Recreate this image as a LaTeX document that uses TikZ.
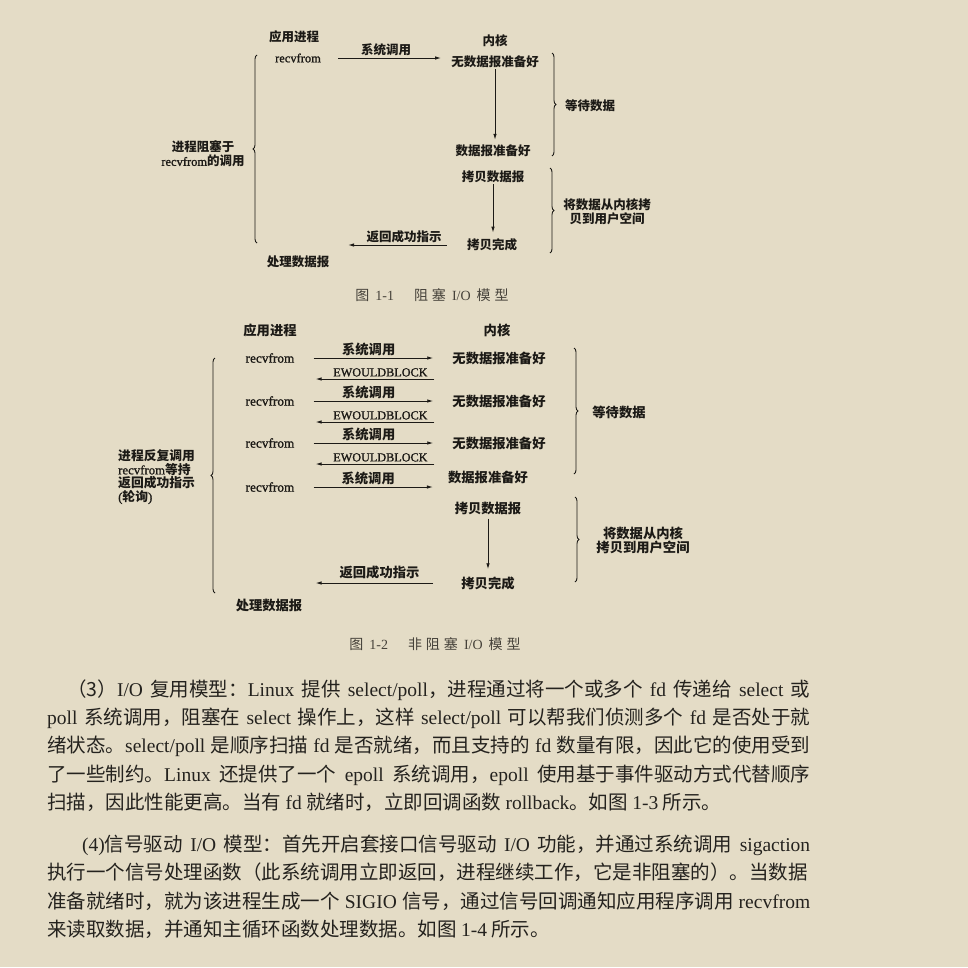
\documentclass[tikz,border=0pt]{standalone}
\usepackage{fontspec}
\setmainfont{Liberation Serif}
\newfontfamily\cjk{Noto Sans CJK SC}
\newfontfamily\enthick{Liberation Serif}[FakeBold=1.2]
\usetikzlibrary{arrows.meta,decorations.pathreplacing}

\XeTeXlinebreaklocale "zh"
\XeTeXlinebreakskip=0pt plus 1pt

\definecolor{paper}{RGB}{228,220,198}
\definecolor{ink}{RGB}{28,26,22}
\definecolor{bodyink}{RGB}{36,34,30}
\definecolor{capink}{RGB}{70,66,58}

\newcommand{\en}[1]{{\rmfamily\mdseries #1}}
\newcommand{\ent}[1]{{\enthick\mdseries #1}}

\tikzstyle{lbl}=[inner sep=1pt,text=ink,font=\cjk\bfseries\fontsize{12.5}{14}\selectfont]
\tikzstyle{lbl two}=[lbl,font=\cjk\bfseries\fontsize{13.3}{14}\selectfont]
\tikzstyle{call}=[draw=ink,line width=0.9pt,-{Latex[length=6pt,width=3.5pt]}]
\tikzstyle{curly}=[draw=ink,line width=0.9pt,decorate,decoration={brace,amplitude=4pt}]
\tikzstyle{fig caption}=[inner sep=0pt,text=capink,font=\cjk\fontsize{14}{16}\selectfont]
\tikzstyle{body line}=[anchor=base west,inner sep=0pt,text=bodyink,font=\cjk\fontsize{19.5}{28}\selectfont]

\begin{document}
\begin{tikzpicture}[x=1pt,y=-1pt]
    % the page
    \fill[paper] (0,0) rectangle (968,967);
    \useasboundingbox (0,0) rectangle (968,967);

    % Figure 1-1, first the labels
    \node[lbl] (app1) at (294,37) {应用进程};
    \node[lbl] (kern1) at (495,41) {内核};
    \node[lbl] (rv1) at (298,58) {\ent{recvfrom}};
    \node[lbl] (nodata1) at (495,62) {无数据报准备好};
    \node[lbl] (ready1) at (493,151) {数据报准备好};
    \node[lbl] (copy1) at (493,177) {拷贝数据报};
    \node[lbl] (done1) at (492,245) {拷贝完成};
    \node[lbl] (handle1) at (298,262) {处理数据报};
    \node[lbl] (wait1) at (590,106) {等待数据};
    \node[lbl,align=center] (move1) at (607,212) {将数据从内核拷\\贝到用户空间};
    \node[lbl,align=center] (block1) at (203,154) {进程阻塞于\\\ent{recvfrom}的调用};
    % then the arrows and braces
    \draw[call,shorten <=16pt,shorten >=9pt] (rv1.east) -- (rv1.east -| nodata1.west)
        node[lbl,midway,above=1pt] {系统调用};
    \draw[call,shorten >=4pt] (nodata1.south) -- (nodata1.south |- ready1.north);
    \draw[call,shorten >=5pt] (copy1.south) -- (copy1.south |- done1.north);
    \draw[call,shorten <=19pt,shorten >=26pt] (done1.west) -- (done1.west -| rv1.east)
        node[lbl,pos=0.43,above=1pt] {返回成功指示};
    \draw[curly] (257,243) -- (257,55);
    \draw[curly] (552,53) -- (552,156);
    \draw[curly] (550,168) -- (550,253);
    \node[fig caption] (cap1) at (432,295) {图\hspace{6pt}\en{1-1}\hspace{20pt}阻\hspace{4pt}塞\hspace{6pt}\en{I/O}\hspace{6pt}模\hspace{4pt}型};

    % Figure 1-2, the polling rows
    \node[lbl two] (app2) at (270,330) {应用进程};
    \node[lbl two] (kern2) at (497,330) {内核};
    \foreach \i/\y in {1/358,2/401,3/443}
    {
        \node[lbl two] (rv2\i) at (270,\y) {\ent{recvfrom}};
        \node[lbl two] (nd2\i) at (499,\y) {无数据报准备好};
        \draw[call,shorten <=18pt,shorten >=18pt] (rv2\i.east) -- (rv2\i.east -| nd2\i.west)
            node[lbl two,pos=0.47,above=1pt] {系统调用};
        \coordinate (back\i) at ([yshift=-21pt]nd2\i.west);
        \draw[call,shorten <=17pt,shorten >=20pt] (back\i) -- (back\i -| rv2\i.east)
            node[lbl two,pos=0.455,above=1pt,font=\fontsize{12.2}{14}\selectfont] {\ent{EWOULDBLOCK}};
    }
    \node[lbl two] (rv24) at (270,487) {\ent{recvfrom}};
    \node[lbl two] (ready2) at (488,477) {数据报准备好};
    \node[lbl two] (copy2) at (488,508) {拷贝数据报};
    \node[lbl two] (done2) at (488,583) {拷贝完成};
    \node[lbl two] (handle2) at (269,605) {处理数据报};
    \node[lbl two] (wait2) at (619,412) {等待数据};
    \node[lbl two,align=center] (move2) at (643,540) {将数据从内核\\拷贝到用户空间};
    \node[lbl two,anchor=west,align=left,font=\cjk\bfseries\fontsize{12.8}{13.5}\selectfont] (poll2) at (117,477)
        {进程反复调用\\\ent{recvfrom}等持\\返回成功指示\\\ent{(}轮询\ent{)}};
    \draw[call,shorten <=18pt,shorten >=14pt] (rv24.east) -- (rv24.east -| ready2.west)
        node[lbl two,pos=0.48,above=1pt] {系统调用};
    \draw[call,shorten <=3pt,shorten >=6pt] (copy2.south) -- (copy2.south |- done2.north);
    \draw[call,shorten <=27pt,shorten >=20pt] (done2.west) -- (done2.west -| rv24.east)
        node[lbl two,pos=0.49,above=3pt] {返回成功指示};
    \draw[curly] (215,593) -- (215,358);
    \draw[curly] (574,348) -- (574,474);
    \draw[curly] (575,497) -- (575,582);
    \node[fig caption] (cap2) at (435,644) {图\hspace{6pt}\en{1-2}\hspace{20pt}非\hspace{4pt}阻\hspace{4pt}塞\hspace{6pt}\en{I/O}\hspace{6pt}模\hspace{4pt}型};

    % the text below
    \node[body line] (p1a) at (67,696) {\makebox[743pt][s]{（3）\en{I/O} 复用模型：\en{Linux} 提供 \en{select/poll}，进程通过将一个或多个 \en{fd} 传递给 \en{select} 或}};
    \node[body line] (p1b) at (47,724) {\makebox[763pt][s]{\en{poll} 系统调用，阻塞在 \en{select} 操作上，这样 \en{select/poll} 可以帮我们侦测多个 \en{fd} 是否处于就}};
    \node[body line] (p1c) at (47,752) {\makebox[763pt][s]{绪状态。\en{select/poll} 是顺序扫描 \en{fd} 是否就绪，而且支持的 \en{fd} 数量有限，因此它的使用受到}};
    \node[body line] (p1d) at (47,781) {\makebox[763pt][s]{了一些制约。\en{Linux} 还提供了一个 \en{epoll} 系统调用，\en{epoll} 使用基于事件驱动方式代替顺序}};
    \node[body line] (p1e) at (47,809) {扫描，因此性能更高。当有 \en{fd} 就绪时，立即回调函数 \en{rollback}。如图 \en{1-3} 所示。};
    \node[body line] (p2a) at (82,851) {\makebox[728pt][s]{\en{(4)}信号驱动 \en{I/O} 模型：首先开启套接口信号驱动 \en{I/O} 功能，并通过系统调用 \en{sigaction}}};
    \node[body line] (p2b) at (47,879) {\makebox[763pt][s]{执行一个信号处理函数（此系统调用立即返回，进程继续工作，它是非阻塞的）。当数据}};
    \node[body line] (p2c) at (47,908) {\makebox[763pt][s]{准备就绪时，就为该进程生成一个 \en{SIGIO} 信号，通过信号回调通知应用程序调用 \en{recvfrom}}};
    \node[body line] (p2d) at (47,936) {来读取数据，并通知主循环函数处理数据。如图 \en{1-4} 所示。};
\end{tikzpicture}
\end{document}
